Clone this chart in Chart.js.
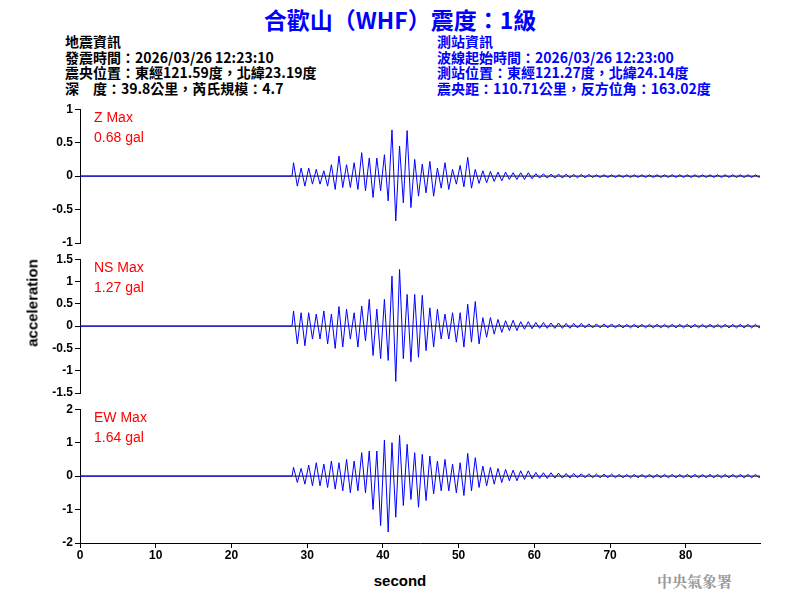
<!DOCTYPE html>
<html>
<head>
<meta charset="utf-8">
<script src="https://cdn.jsdelivr.net/npm/chart.js@4"></script>
<style>
body { margin:0; width:800px; height:600px; background:#fff; position:relative; overflow:hidden; font-family:"Noto Sans CJK TC", sans-serif; }
canvas { position:absolute; left:0; }
.t { position:absolute; white-space:nowrap; }
#title { left:0; width:800px; text-align:center; top:2px; font-size:23px; font-weight:bold; color:#0000ff; }
.info { font-size:14px; line-height:15.5px; font-weight:bold; top:34px; }
.lab { color:#ff0000; font-family:Arial, "Liberation Sans", sans-serif; font-size:14px; line-height:20px; }
</style>
</head>
<body>
<div class="t" id="title">合歡山（WHF）震度：1級</div>
<div class="t info" style="left:65px;color:#000">地震資訊<br>發震時間：2026/03/26 12:23:10<br>震央位置：東經121.59度，北緯23.19度<br>深　度：39.8公里，芮氏規模：4.7</div>
<div class="t info" style="left:437px;color:#0000ff">測站資訊<br>波線起始時間：2026/03/26 12:23:00<br>測站位置：東經121.27度，北緯24.14度<br>震央距：110.71公里，反方位角：163.02度</div>

<canvas id="c1" style="top:100px"></canvas>
<canvas id="c2" style="top:250px"></canvas>
<canvas id="c3" style="top:400px"></canvas>

<div class="t lab" style="left:94px;top:107px">Z Max<br>0.68 gal</div>
<div class="t lab" style="left:94px;top:257px">NS Max<br>1.27 gal</div>
<div class="t lab" style="left:94px;top:407px">EW Max<br>1.64 gal</div>
<div class="t" style="left:32px;top:303px;transform:translate(-50%,-50%) rotate(-90deg);font:bold 15px Arial,sans-serif">acceleration</div>
<div class="t" style="left:400px;top:580px;transform:translate(-50%,-50%);font:bold 15px Arial,sans-serif">second</div>
<div class="t" style="left:657px;top:570px;font-size:15px;font-weight:bold;color:#999;font-family:'Noto Serif CJK TC','Noto Sans CJK TC',serif">中央氣象署</div>

<script>
// seconds after start of the strong part (28 s ... )
const startSec = 28;
const endSec = 89.8;

const zUpper = [0.2,0.12,0.12,0.1,0.08,0.17,0.3,0.17,0.2,0.35,0.27,0.27,0.32,0.69,0.45,0.68,0.25,0.18,0.22,0.12,0.2,0.1,0.16,0.28,0.1,0.08,0.07,0.06,0.06,0.05,0.05,0.05,0.035,0.035,0.03,0.03,0.03,0.025,0.025,0.025,0.02,0.02,0.02,0.02,0.02,0.02,0.02,0.02,0.02,0.02,0.02,0.02,0.02,0.02,0.02,0.02,0.02,0.02,0.02,0.02,0.02,0.02];
const zLower = [-0.15,-0.15,-0.12,-0.12,-0.15,-0.2,-0.17,-0.17,-0.2,-0.22,-0.32,-0.22,-0.37,-0.67,-0.4,-0.47,-0.3,-0.25,-0.3,-0.18,-0.2,-0.12,-0.16,-0.18,-0.11,-0.1,-0.08,-0.07,-0.05,-0.05,-0.05,-0.04,-0.03,-0.03,-0.03,-0.03,-0.025,-0.025,-0.025,-0.02,-0.02,-0.02,-0.02,-0.02,-0.02,-0.02,-0.02,-0.02,-0.02,-0.02,-0.02,-0.02,-0.02,-0.02,-0.02,-0.02,-0.02,-0.02,-0.02,-0.02,-0.02,-0.02];

const nsUpper = [0.34,0.3,0.3,0.27,0.34,0.27,0.44,0.38,0.3,0.45,0.6,0.38,0.6,1.12,1.27,0.71,0.71,0.69,0.41,0.38,0.27,0.3,0.3,0.49,0.55,0.19,0.19,0.15,0.12,0.13,0.1,0.1,0.08,0.08,0.07,0.07,0.06,0.06,0.06,0.05,0.05,0.05,0.05,0.04,0.04,0.04,0.04,0.04,0.04,0.04,0.04,0.04,0.04,0.04,0.04,0.04,0.04,0.04,0.04,0.04,0.04,0.04];
const nsLower = [-0.4,-0.44,-0.29,-0.29,-0.4,-0.5,-0.47,-0.29,-0.47,-0.33,-0.66,-0.73,-0.77,-1.24,-0.73,-0.8,-0.7,-0.55,-0.47,-0.29,-0.29,-0.36,-0.47,-0.36,-0.4,-0.25,-0.18,-0.14,-0.1,-0.1,-0.07,-0.06,-0.05,-0.05,-0.05,-0.05,-0.05,-0.04,-0.04,-0.04,-0.04,-0.04,-0.04,-0.04,-0.04,-0.04,-0.04,-0.04,-0.04,-0.04,-0.04,-0.04,-0.04,-0.04,-0.04,-0.04,-0.04,-0.04,-0.04,-0.04,-0.04,-0.04];

const ewUpper = [0.26,0.23,0.33,0.4,0.36,0.45,0.4,0.5,0.45,0.7,0.75,0.75,1.08,1.0,1.22,0.95,0.7,0.65,0.6,0.45,0.5,0.36,0.4,0.68,0.55,0.3,0.26,0.23,0.2,0.18,0.16,0.16,0.11,0.1,0.1,0.09,0.08,0.08,0.07,0.07,0.06,0.06,0.06,0.05,0.05,0.05,0.05,0.05,0.05,0.05,0.05,0.05,0.05,0.05,0.05,0.05,0.05,0.05,0.05,0.05,0.05,0.05];
const ewLower = [-0.19,-0.24,-0.29,-0.29,-0.34,-0.39,-0.44,-0.5,-0.44,-0.5,-1.0,-1.48,-1.67,-1.23,-0.88,-0.7,-0.93,-0.73,-0.53,-0.44,-0.44,-0.5,-0.58,-0.44,-0.34,-0.29,-0.24,-0.19,-0.14,-0.14,-0.1,-0.08,-0.07,-0.07,-0.06,-0.06,-0.06,-0.05,-0.05,-0.05,-0.05,-0.05,-0.05,-0.05,-0.05,-0.05,-0.05,-0.05,-0.05,-0.05,-0.05,-0.05,-0.05,-0.05,-0.05,-0.05,-0.05,-0.05,-0.05,-0.05,-0.05,-0.05];

const xTicks = [0,10,20,30,40,50,60,70,80];

function wave(up, lo) {
  const pts = [{x:0,y:0},{x:startSec,y:0}];
  up.forEach((v, i) => {
    pts.push({x: startSec + i + 0.2, y: v});
    pts.push({x: startSec + i + 0.7, y: lo[i]});
  });
  pts.push({x:endSec,y:0});
  return pts;
}

function makeChart(id, up, lo, ymax, step, showX) {
  const c = document.getElementById(id);
  const h = 160;
  c.width = 780; c.height = h;
  c.style.width = '780px'; c.style.height = h + 'px';
  const font = {family:'Arial, "Liberation Sans", sans-serif', size:12, weight:'bold'};
  new Chart(c, {
    type: 'line',
    data: { datasets: [
      { data: wave(up, lo), borderColor:'#0000ff', borderWidth:1, pointRadius:0, tension:0 },
      { data: [{x:0,y:0},{x:endSec,y:0}], borderColor:'#000', borderWidth:1, pointRadius:0 }
    ]},
    options: {
      responsive:false, animation:false, devicePixelRatio:1,
      layout: { padding: {top:8, right:20, bottom:0, left:0} },
      plugins: { legend:{display:false}, tooltip:{enabled:false} },
      scales: {
        x: { type:'linear', min:0, max:endSec,
             afterBuildTicks: s => { s.ticks = xTicks.map(v => ({value:v})); },
             afterFit: s => { s.height = 17; },
             grid:{display:showX, drawOnChartArea:false, tickLength:5, color:'#000'},
             border:{display:showX, color:'#000'},
             ticks:{display:showX, color:'#000', font, padding:0, maxRotation:0} },
        y: { min:-ymax, max:ymax,
             afterFit: s => { s.width = 80; },
             grid:{drawOnChartArea:false, tickLength:5, color:'#000'},
             border:{color:'#000'},
             ticks:{stepSize:step, color:'#000', font, padding:2, callback: v => String(Math.round(v * 10) / 10)} }
      }
    }
  });
}

makeChart('c1', zUpper, zLower, 1, 0.5, false);
makeChart('c2', nsUpper, nsLower, 1.5, 0.5, false);
makeChart('c3', ewUpper, ewLower, 2, 1, true);
</script>
</body>
</html>
